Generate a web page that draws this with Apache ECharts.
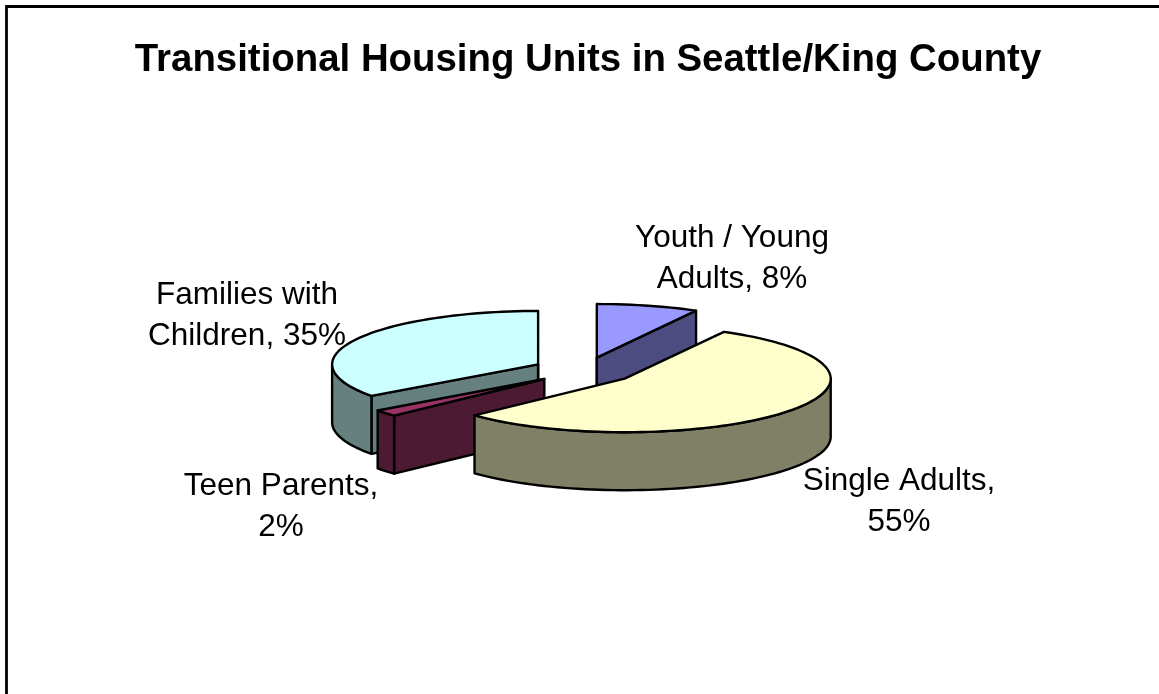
<!DOCTYPE html>
<html>
<head>
<meta charset="utf-8">
<style>html,body{margin:0;padding:0;background:#fff;overflow:hidden}#c{width:1159px;height:694px}</style>
<script src="https://cdn.jsdelivr.net/npm/echarts@6/dist/echarts.min.js"></script>
</head>
<body>
<div id="c"></div>
<script>
// Data, in the chart's clockwise order from 12 o'clock
const titleText = 'Transitional Housing Units in Seattle/King County';
const categories = ['Youth / Young Adults', 'Single Adults', 'Teen Parents', 'Families with Children'];
const shares = [8, 55, 2, 35];
const labelTexts = ['Youth / Young\nAdults, 8%', 'Single Adults,\n55%', 'Teen Parents,\n2%', 'Families with\nChildren, 35%'];

// Styles and layout
const topColors = ['#9999FF', '#FFFFCC', '#993366', '#CCFFFF'];
const sideColors = ['#4C4C80', '#808066', '#4D1A33', '#668080'];
const paintRank = [0, 3, 2, 1];
const labelCentres = [[732, 259], [899, 502], [281, 507], [247, 316]];
const CX = 584, CY = 370.5, RX = 206, RY = 53.5, DEPTH = 58, EXPLODE = 0.25;
const FONT = '"Liberation Sans", Arial, sans-serif';

const total = shares.reduce((a, b) => a + b, 0);
const rad = d => d * Math.PI / 180;

function renderItem(params, api) {
  const i = params.dataIndex;
  let before = 0;
  for (let k = 0; k < i; k++) before += shares[k];
  const a0 = before / total * 360;
  const a1 = a0 + api.value(0) / total * 360;
  const mid = rad((a0 + a1) / 2);
  const ox = CX + EXPLODE * RX * Math.sin(mid);
  const oy = CY - EXPLODE * RY * Math.cos(mid);
  const rim = (a, d) => [ox + RX * Math.sin(rad(a)), oy - RY * Math.cos(rad(a)) + (d || 0)];
  const arc = (s, e, d) => {
    const pts = [], n = Math.max(2, Math.ceil((e - s) / 2));
    for (let k = 0; k <= n; k++) pts.push(rim(s + (e - s) * k / n, d));
    return pts;
  };
  const z = paintRank[i] * 10;
  const line = { stroke: '#000', lineWidth: 2.4, lineJoin: 'round' };
  const face = (points, fill, z2) => ({
    type: 'polygon', z2, silent: true,
    shape: { points }, style: Object.assign({ fill }, line)
  });
  const children = [];
  // radial cut faces, only those that face the viewer
  const cut = a => {
    const p = rim(a);
    children.push(face([[ox, oy], p, [p[0], p[1] + DEPTH], [ox, oy + DEPTH]], sideColors[i], z + 1));
  };
  if (Math.sin(rad(a0)) < -1e-6) cut(a0);
  if (Math.sin(rad(a1)) > 1e-6) cut(a1);
  // vertical edge of a slice whose cut lies along the line of sight
  if (Math.abs(Math.sin(rad(a0))) < 1e-6 || Math.abs(Math.sin(rad(a1))) < 1e-6) {
    children.push({
      type: 'line', z2: z + 1, silent: true,
      shape: { x1: ox, y1: oy, x2: ox, y2: oy + DEPTH },
      style: line
    });
  }
  // outer wall, only the part that faces the viewer
  const ws = Math.max(a0, 90), we = Math.min(a1, 270);
  if (we > ws) {
    children.push(face(arc(ws, we, 0).concat(arc(ws, we, DEPTH).reverse()), sideColors[i], z + 2));
  }
  // top face
  children.push(face([[ox, oy]].concat(arc(a0, a1, 0)), topColors[i], z + 3));
  // label
  children.push({
    type: 'text', z2: 100, silent: true,
    style: {
      text: labelTexts[i], x: labelCentres[i][0], y: labelCentres[i][1],
      align: 'center', verticalAlign: 'middle',
      font: '31.5px ' + FONT, lineHeight: 41, fill: '#000'
    }
  });
  return { type: 'group', children };
}

const chart = echarts.init(document.getElementById('c'), null, { renderer: 'canvas' });
chart.setOption({
  animation: false,
  backgroundColor: '#fff',
  title: {
    text: titleText, left: 583, top: 36, textAlign: 'center',
    textStyle: { fontFamily: FONT, fontWeight: 'bold', fontSize: 38.4, color: '#000' }
  },
  graphic: [{
    type: 'rect', silent: true, z: -1,
    shape: { x: 6.5, y: 6.5, width: 1400, height: 1000 },
    style: { fill: 'none', stroke: '#000', lineWidth: 2.8 }
  }],
  series: [{
    type: 'custom',
    coordinateSystem: 'none',
    name: 'Transitional Housing Units',
    data: categories.map((name, i) => ({ name, value: [shares[i]] })),
    renderItem
  }]
});
</script>
</body>
</html>
